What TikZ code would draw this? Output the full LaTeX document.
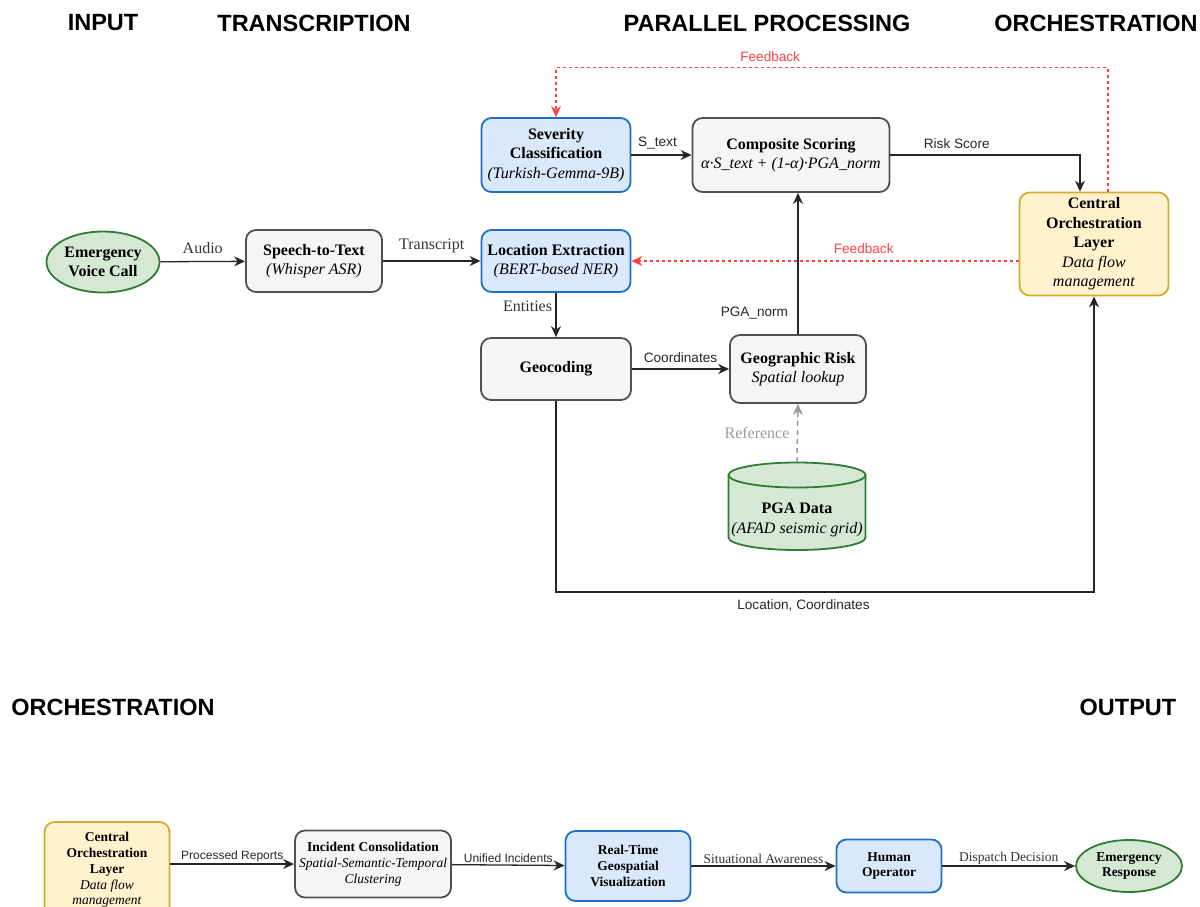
\documentclass[tikz,border=0pt]{standalone}
\usepackage{fontspec}
\setmainfont{Liberation Serif}
\setsansfont{Liberation Sans}
\usetikzlibrary{arrows.meta, shapes.geometric, positioning}

\definecolor{callgreen}{HTML}{2E7D32}
\definecolor{callfill}{HTML}{D5E8D4}
\definecolor{procgray}{HTML}{505050}
\definecolor{procfill}{HTML}{F5F5F5}
\definecolor{modelblue}{HTML}{1E6FC8}
\definecolor{modelfill}{HTML}{DAE8FC}
\definecolor{orchgold}{HTML}{D6AB2B}
\definecolor{orchfill}{HTML}{FFF2CC}
\definecolor{fbred}{HTML}{FF4040}
\definecolor{refgray}{HTML}{999999}

\newcommand{\nodefont}{\fontsize{16}{19.5}\selectfont}
\newcommand{\smallnodefont}{\fontsize{13.5}{15.8}\selectfont}

\begin{document}
\begin{tikzpicture}[x=1pt, y=-1pt, >=Stealth,
    header/.style={font=\sffamily\bfseries\fontsize{23.5}{26}\selectfont},
    box/.style={rounded corners=10pt, line width=1.8pt, align=center, inner sep=2pt, font=\nodefont},
    procbox/.style={box, draw=procgray, fill=procfill},
    modelbox/.style={box, draw=modelblue, fill=modelfill},
    orchbox/.style={box, draw=orchgold, fill=orchfill},
    endell/.style={ellipse, line width=1.8pt, draw=callgreen, fill=callfill, align=center, inner sep=0pt, font=\nodefont\bfseries},
    dbline/.style={line width=1.8pt, draw=callgreen},
    arr/.style={->, line width=1.3pt, draw=black!85, >={Stealth[length=11pt,width=10pt]}},
    fb/.style={->, line width=1.2pt, draw=fbred, dash pattern=on 3pt off 3pt, >={Stealth[length=11pt,width=10pt]}},
    reflink/.style={->, line width=1.5pt, draw=refgray, dash pattern=on 5pt off 4pt, >={Stealth[length=11pt,width=10pt]}},
    slabel/.style={font=\sffamily\fontsize{13.6}{15}\selectfont, text=black!85},
    rlabel/.style={font=\fontsize{16}{18}\selectfont, text=black!80}]

\useasboundingbox (0,0) rectangle (1200,906);

% column headings
\node[header] (hInput) at (103,23) {INPUT};
\node[header] (hTrans) at (314,23) {TRANSCRIPTION};
\node[header] (hPar) at (767,23) {PARALLEL PROCESSING};
\node[header] (hOrch) at (1096,23) {ORCHESTRATION};
\node[header] (hOrchB) at (113,707) {ORCHESTRATION};
\node[header] (hOut) at (1128,707) {OUTPUT};

% upper pipeline
\node[endell, minimum width=113, minimum height=61] (call) at (103,262) {Emergency\\Voice Call};
\node[procbox, minimum width=136, minimum height=62] (stt) at (314,261) {\textbf{Speech-to-Text}\\\textit{(Whisper ASR)}};
\node[modelbox, minimum width=149, minimum height=62] (loc) at (556,261) {\textbf{Location Extraction}\\\textit{(BERT-based NER)}};
\node[modelbox, minimum width=149, minimum height=74] (sev) at (556,155) {\textbf{Severity}\\\textbf{Classification}\\\textit{(Turkish-Gemma-9B)}};
\node[procbox, minimum width=197, minimum height=74] (comp) at (791,155) {\textbf{Composite Scoring}\\\textit{α·S\_text + (1-α)·PGA\_norm}};
\node[orchbox, minimum width=149, minimum height=103] (orch) at (1094,244) {\textbf{Central}\\\textbf{Orchestration}\\\textbf{Layer}\\\textit{Data flow}\\\textit{management}};
\node[procbox, minimum width=150, minimum height=62] (geo) at (556,369) {\textbf{Geocoding}};
\node[procbox, minimum width=136, minimum height=68] (grisk) at (798,369) {\textbf{Geographic Risk}\\\textit{Spatial lookup}};

% PGA data store (cylinder)
\fill[callfill] (728.5,475) rectangle (865.5,537.5);
\fill[callfill] (797,537.5) ellipse [x radius=68.5pt, y radius=12.5pt];
\draw[dbline] (728.5,475) -- (728.5,537.5) arc[start angle=180, end angle=360, x radius=68.5pt, y radius=12.5pt] -- (865.5,475);
\filldraw[dbline, fill=callfill] (797,475) ellipse [x radius=68.5pt, y radius=12.5pt];
\node[minimum width=137, minimum height=88, inner sep=0pt,
      label={[font=\nodefont, align=center, yshift=-14pt]center:\textbf{PGA Data}\\\textit{(AFAD seismic grid)}}] (pga) at (797,506) {};

\draw[arr] (call) -- node[rlabel, above=4pt] {Audio} (stt);
\draw[arr] (stt) -- node[rlabel, above=4pt] {Transcript} (loc);
\draw[arr] (sev) -- node[slabel, above=2pt, xshift=-4pt] {S\_text} (comp);
\draw[arr] (loc) -- node[rlabel, left, pos=0.3] {Entities} (geo);
\draw[arr] (geo) -- node[slabel, above=2pt] {Coordinates} (grisk);
\draw[arr] (grisk.north) -- node[slabel, left=6pt, pos=0.15] {PGA\_norm} (grisk.north |- comp.south);
\draw[reflink] (pga.north) -- node[rlabel, left=4pt, text=refgray] {Reference} (grisk.south);
\draw[arr] (comp.east) -| node[slabel, above=2pt, pos=0.175] {Risk Score} ([xshift=-14pt]orch.north);
\draw[arr] (geo.south) -- ++(0,191) -| node[slabel, below=4pt, pos=0.23] {Location, Coordinates} (orch.south);
\draw[fb] ([xshift=14pt]orch.north) -- ++(0,-124) -| node[slabel, above=2pt, pos=0.306, text=fbred] {Feedback} (sev.north);
\draw[fb] (orch.west |- loc.east) -- node[slabel, above=3pt, pos=0.4, text=fbred] {Feedback} (loc.east);

% lower pipeline
\node[orchbox, minimum width=125, minimum height=96, font=\smallnodefont] (orchB) at (107,870) {\textbf{Central}\\\textbf{Orchestration}\\\textbf{Layer}\\\textit{Data flow}\\\textit{management}};
\node[procbox, minimum width=156, minimum height=67, font=\smallnodefont] (inc) at (373,864) {\textbf{Incident Consolidation}\\\textit{Spatial-Semantic-Temporal}\\\textit{Clustering}};
\node[modelbox, minimum width=125, minimum height=70, font=\smallnodefont] (viz) at (628,866) {\textbf{Real-Time}\\\textbf{Geospatial}\\\textbf{Visualization}};
\node[modelbox, minimum width=105, minimum height=53, font=\smallnodefont] (oper) at (889,866) {\textbf{Human}\\\textbf{Operator}};
\node[endell, minimum width=106, minimum height=52, font=\smallnodefont\bfseries] (resp) at (1129,866) {Emergency\\Response};

\draw[arr] (orchB.east |- inc.west) -- node[slabel, font=\sffamily\fontsize{12}{14}\selectfont, above=-2pt] {Processed Reports} (inc.west);
\draw[arr] (inc) -- node[slabel, font=\sffamily\fontsize{12}{14}\selectfont, above=-2pt] {Unified Incidents} (viz);
\draw[arr] (viz) -- node[rlabel, font=\fontsize{13.5}{15}\selectfont, above=-2pt] {Situational Awareness} (oper);
\draw[arr] (oper) -- node[rlabel, font=\fontsize{13.5}{15}\selectfont, above=-2pt] {Dispatch Decision} (resp);
\end{tikzpicture}
\end{document}
